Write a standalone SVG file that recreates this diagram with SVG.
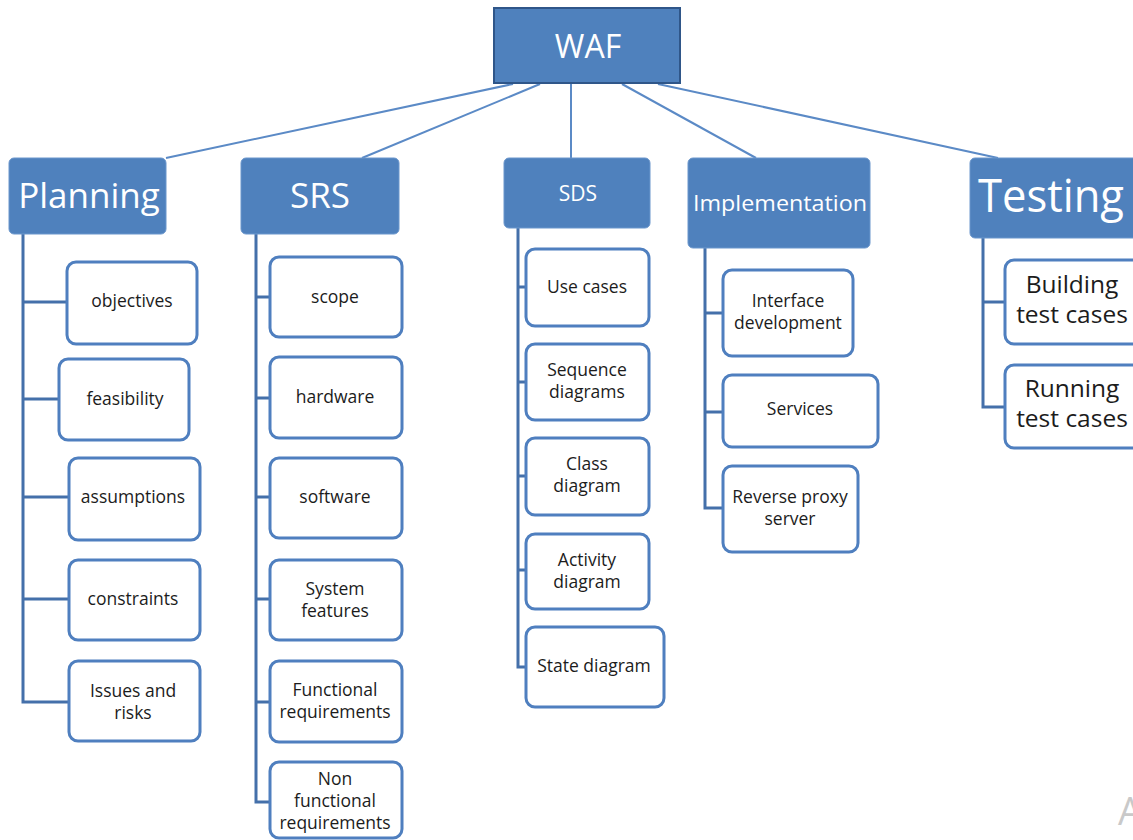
<svg xmlns="http://www.w3.org/2000/svg" width="1133" height="840" viewBox="0 0 1133 840">
  <style>
    .root { fill: #4f81bd; stroke: #2f5689; stroke-width: 2; }
    .head { fill: #4f81bd; stroke: #6a96cc; stroke-width: 1; }
    .leaf { fill: #ffffff; stroke: #4f7fbf; stroke-width: 3; }
    .ht { font-family: "Open Sans", "Liberation Sans", sans-serif; fill: #ffffff; text-anchor: middle; }
    .lt { font-family: "Open Sans", "Liberation Sans", sans-serif; font-size: 17.5px; fill: #1c1c1c; text-anchor: middle; }
    .big { font-size: 24.5px; }
    .top { fill: none; stroke: #5b8ac6; stroke-width: 2; }
    .tree { fill: none; stroke: #4470aa; stroke-width: 3; }
  </style>

  <!-- connectors -->
  <g id="connectors">
    <line class="top" x1="513" y1="84" x2="166" y2="158"/>
    <line class="top" x1="540" y1="84" x2="362" y2="158"/>
    <line class="top" x1="571" y1="84" x2="571" y2="158"/>
    <line class="top" x1="622" y1="84" x2="756" y2="158"/>
    <line class="top" x1="658" y1="84" x2="998" y2="158"/>

    <!-- Planning branch -->
    <path class="tree" d="M23 234 V702 H69 M23 302 H67 M23 399 H59 M23 497 H69 M23 599 H69"/>
    <!-- SRS branch -->
    <path class="tree" d="M256 234 V802 H270 M256 297 H270 M256 398 H270 M256 497 H270 M256 599 H270 M256 702 H270"/>
    <!-- SDS branch -->
    <path class="tree" d="M518 228 V667 H526 M518 287 H526 M518 382 H526 M518 476 H526 M518 570 H526"/>
    <!-- Implementation branch -->
    <path class="tree" d="M705 248 V508 H723 M705 313 H723 M705 412 H723"/>
    <!-- Testing branch -->
    <path class="tree" d="M983 238 V407 H1005 M983 302 H1005"/>
  </g>

  <!-- root -->
  <g id="waf">
    <rect class="root" x="494" y="8" width="186" height="75"/>
    <text class="ht" x="588" y="58" font-size="32">WAF</text>
  </g>

  <!-- phase headers -->
  <g id="planning">
    <rect class="head" x="9" y="158" width="157" height="76" rx="5"/>
    <text class="ht" x="89" y="208" font-size="35">Planning</text>
  </g>
  <g id="srs">
    <rect class="head" x="241" y="158" width="158" height="76" rx="5"/>
    <text class="ht" x="320" y="208" font-size="35">SRS</text>
  </g>
  <g id="sds">
    <rect class="head" x="504" y="158" width="146" height="70" rx="5"/>
    <text class="ht" x="578" y="201" font-size="21">SDS</text>
  </g>
  <g id="implementation">
    <rect class="head" x="688" y="158" width="182" height="90" rx="5"/>
    <text class="ht" x="780" y="211" font-size="22" textLength="174" lengthAdjust="spacingAndGlyphs">Implementation</text>
  </g>
  <g id="testing">
    <rect class="head" x="970" y="158" width="172" height="80" rx="5"/>
    <text class="ht" x="1051" y="212" font-size="45" textLength="146" lengthAdjust="spacingAndGlyphs">Testing</text>
  </g>

  <!-- Planning items -->
  <g id="objectives">
    <rect class="leaf" x="67" y="262" width="130" height="82" rx="9"/>
    <text class="lt" x="132" y="307">objectives</text>
  </g>
  <g id="feasibility">
    <rect class="leaf" x="59" y="359" width="130" height="81" rx="9"/>
    <text class="lt" x="125" y="405">feasibility</text>
  </g>
  <g id="assumptions">
    <rect class="leaf" x="69" y="458" width="131" height="82" rx="9"/>
    <text class="lt" x="133" y="503">assumptions</text>
  </g>
  <g id="constraints">
    <rect class="leaf" x="69" y="560" width="131" height="80" rx="9"/>
    <text class="lt" x="133" y="605">constraints</text>
  </g>
  <g id="issues">
    <rect class="leaf" x="69" y="661" width="131" height="80" rx="9"/>
    <text class="lt" x="133" y="697">Issues and</text>
    <text class="lt" x="133" y="719">risks</text>
  </g>

  <!-- SRS items -->
  <g id="scope">
    <rect class="leaf" x="270" y="257" width="132" height="80" rx="9"/>
    <text class="lt" x="335" y="303">scope</text>
  </g>
  <g id="hardware">
    <rect class="leaf" x="270" y="357" width="132" height="81" rx="9"/>
    <text class="lt" x="335" y="403">hardware</text>
  </g>
  <g id="software">
    <rect class="leaf" x="270" y="458" width="132" height="80" rx="9"/>
    <text class="lt" x="335" y="503">software</text>
  </g>
  <g id="system-features">
    <rect class="leaf" x="270" y="560" width="132" height="80" rx="9"/>
    <text class="lt" x="335" y="595">System</text>
    <text class="lt" x="335" y="617">features</text>
  </g>
  <g id="functional">
    <rect class="leaf" x="270" y="661" width="132" height="81" rx="9"/>
    <text class="lt" x="335" y="696">Functional</text>
    <text class="lt" x="335" y="718">requirements</text>
  </g>
  <g id="non-functional">
    <rect class="leaf" x="270" y="762" width="132" height="76" rx="9"/>
    <text class="lt" x="335" y="785">Non</text>
    <text class="lt" x="335" y="807">functional</text>
    <text class="lt" x="335" y="829">requirements</text>
  </g>

  <!-- SDS items -->
  <g id="use-cases">
    <rect class="leaf" x="526" y="249" width="123" height="77" rx="9"/>
    <text class="lt" x="587" y="293">Use cases</text>
  </g>
  <g id="sequence">
    <rect class="leaf" x="526" y="344" width="123" height="76" rx="9"/>
    <text class="lt" x="587" y="376">Sequence</text>
    <text class="lt" x="587" y="398">diagrams</text>
  </g>
  <g id="class">
    <rect class="leaf" x="526" y="438" width="123" height="77" rx="9"/>
    <text class="lt" x="587" y="470">Class</text>
    <text class="lt" x="587" y="492">diagram</text>
  </g>
  <g id="activity">
    <rect class="leaf" x="526" y="534" width="123" height="75" rx="9"/>
    <text class="lt" x="587" y="566">Activity</text>
    <text class="lt" x="587" y="588">diagram</text>
  </g>
  <g id="state">
    <rect class="leaf" x="526" y="627" width="138" height="80" rx="9"/>
    <text class="lt" x="594" y="672">State diagram</text>
  </g>

  <!-- Implementation items -->
  <g id="interface">
    <rect class="leaf" x="723" y="270" width="130" height="86" rx="9"/>
    <text class="lt" x="788" y="307">Interface</text>
    <text class="lt" x="788" y="329">development</text>
  </g>
  <g id="services">
    <rect class="leaf" x="723" y="375" width="155" height="72" rx="9"/>
    <text class="lt" x="800" y="415">Services</text>
  </g>
  <g id="reverse-proxy">
    <rect class="leaf" x="723" y="466" width="135" height="86" rx="9"/>
    <text class="lt" x="790" y="503">Reverse proxy</text>
    <text class="lt" x="790" y="525">server</text>
  </g>

  <!-- Testing items -->
  <g id="building">
    <rect class="leaf" x="1005" y="260" width="140" height="84" rx="9"/>
    <text class="lt big" x="1072" y="293">Building</text>
    <text class="lt big" x="1072" y="323">test cases</text>
  </g>
  <g id="running">
    <rect class="leaf" x="1005" y="365" width="140" height="83" rx="9"/>
    <text class="lt big" x="1072" y="397">Running</text>
    <text class="lt big" x="1072" y="427">test cases</text>
  </g>

  <text x="1118" y="825" font-family="Open Sans, Liberation Sans, sans-serif" font-size="38" fill="#c9c9c9">A</text>
</svg>
